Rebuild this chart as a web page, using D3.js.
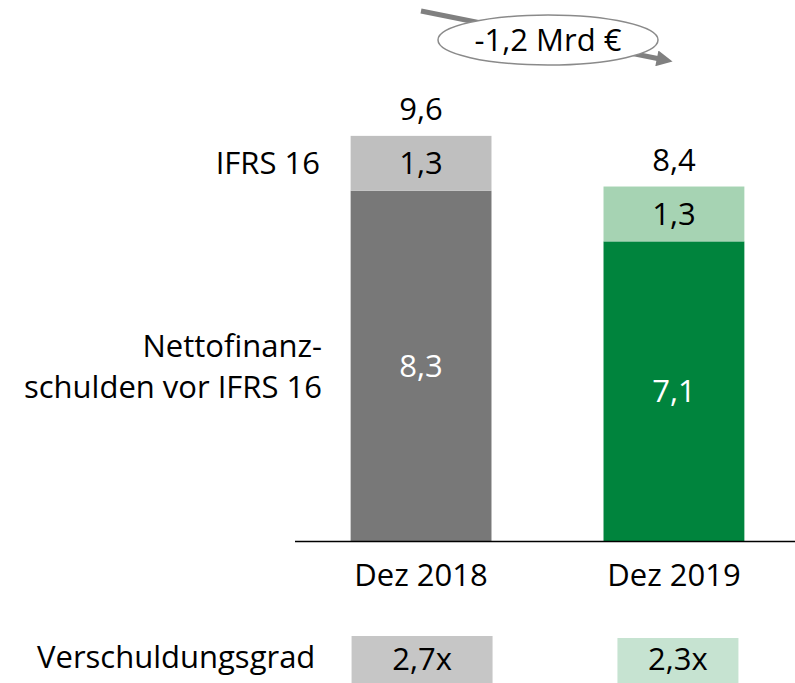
<!DOCTYPE html>
<html>
<head>
<meta charset="utf-8">
<script src="https://cdn.jsdelivr.net/npm/d3@7"></script>
<style>
  body { margin: 0; background: #fff; }
  #chart { width: 795px; height: 683px; }
  text { font-family: "Open Sans", sans-serif; font-size: 31px; fill: #000; }
</style>
</head>
<body>
<div id="chart"></div>
<script>
// data
const categories = ["Dez 2018", "Dez 2019"];
const netDebt = [8.3, 7.1];          // Nettofinanzschulden vor IFRS 16
const ifrs16 = [1.3, 1.3];           // IFRS 16
const totals = [9.6, 8.4];
const leverage = ["2,7x", "2,3x"];
const deltaLabel = "-1,2 Mrd €";

const baseColors = ["#787878", "#00843d"];
const topColors = ["#bfbfbf", "#a6d3b3"];
const boxColors = ["#c6c6c6", "#c6e3d1"];

const width = 795, height = 683;
const fmt = v => d3.format(".1f")(v).replace(".", ",");

const svg = d3.select("#chart").append("svg")
    .attr("width", width)
    .attr("height", height);

const x = d3.scaleBand()
    .domain(categories)
    .range([295, 800])
    .paddingInner(0.443)
    .paddingOuter(0.22);

const y = d3.scaleLinear()
    .domain([0, 10])
    .range([541, 119]);

const data = categories.map((c, i) => ({
    cat: c, base: netDebt[i], top: ifrs16[i], total: totals[i], i: i
}));

// bottom segment
svg.selectAll("rect.base")
    .data(data).enter().append("rect")
    .attr("class", "base")
    .attr("x", d => x(d.cat))
    .attr("width", x.bandwidth())
    .attr("y", d => y(d.base))
    .attr("height", d => y(0) - y(d.base))
    .attr("fill", d => baseColors[d.i]);

// IFRS 16 segment
svg.selectAll("rect.top")
    .data(data).enter().append("rect")
    .attr("class", "top")
    .attr("x", d => x(d.cat))
    .attr("width", x.bandwidth())
    .attr("y", d => y(d.total))
    .attr("height", d => y(d.base) - y(d.total))
    .attr("fill", d => topColors[d.i]);

// labels inside
svg.selectAll("text.baseLbl")
    .data(data).enter().append("text")
    .attr("x", d => x(d.cat) + x.bandwidth() / 2)
    .attr("y", d => (y(0) + y(d.base)) / 2)
    .attr("dy", "0.35em")
    .attr("text-anchor", "middle")
    .style("fill", "#fff")
    .text(d => fmt(d.base));

svg.selectAll("text.topLbl")
    .data(data).enter().append("text")
    .attr("x", d => x(d.cat) + x.bandwidth() / 2)
    .attr("y", d => (y(d.base) + y(d.total)) / 2)
    .attr("dy", "0.35em")
    .attr("text-anchor", "middle")
    .text(d => fmt(d.top));

svg.selectAll("text.totLbl")
    .data(data).enter().append("text")
    .attr("x", d => x(d.cat) + x.bandwidth() / 2)
    .attr("y", d => y(d.total) - 16)
    .attr("text-anchor", "middle")
    .text(d => fmt(d.total));

// axis line + category labels
const xAxis = svg.append("g")
    .attr("transform", `translate(0,${y(0)})`)
    .call(d3.axisBottom(x).tickSize(0).tickPadding(23));
xAxis.select(".domain").attr("d", "M295,0.5H795").attr("stroke", "#000").attr("stroke-width", 1.5);
xAxis.selectAll(".tick text")
    .style("font-family", "\"Open Sans\", sans-serif")
    .style("font-size", "31px")
    .attr("fill", "#000");

// series labels on the left
svg.append("text")
    .attr("x", 320).attr("y", y((totals[0] + netDebt[0]) / 2))
    .attr("dy", "0.35em")
    .attr("text-anchor", "end")
    .text("IFRS 16");

svg.append("text")
    .attr("x", 322).attr("y", 357)
    .attr("text-anchor", "end")
    .text("Nettofinanz-");
svg.append("text")
    .attr("x", 322).attr("y", 398)
    .attr("text-anchor", "end")
    .text("schulden vor IFRS 16");

// Verschuldungsgrad row
const boxW = [141, 121];
svg.append("text")
    .attr("x", 37).attr("y", 668)
    .text("Verschuldungsgrad");

svg.selectAll("rect.box")
    .data(data).enter().append("rect")
    .attr("x", d => x(d.cat) + x.bandwidth() / 2 - boxW[d.i] / 2 + (d.i ? 4 : 1))
    .attr("y", d => d.i ? 638 : 636)
    .attr("width", d => boxW[d.i])
    .attr("height", 50)
    .attr("fill", d => boxColors[d.i]);

svg.selectAll("text.lev")
    .data(data).enter().append("text")
    .attr("x", d => x(d.cat) + x.bandwidth() / 2 + (d.i ? 4 : 1))
    .attr("y", 670)
    .attr("text-anchor", "middle")
    .text(d => leverage[d.i]);

// change arrow + ellipse
svg.append("defs").append("marker")
    .attr("id", "head")
    .attr("viewBox", "0 0 10 10")
    .attr("refX", 2).attr("refY", 5)
    .attr("markerWidth", 4).attr("markerHeight", 3.2)
    .attr("orient", "auto")
    .append("path")
    .attr("d", "M0,0L10,5L0,10Z")
    .attr("fill", "#808080");

svg.append("line")
    .attr("x1", 421).attr("y1", 11)
    .attr("x2", 660).attr("y2", 59)
    .attr("stroke", "#808080")
    .attr("stroke-width", 5)
    .attr("marker-end", "url(#head)");

svg.append("ellipse")
    .attr("cx", 548).attr("cy", 40)
    .attr("rx", 110).attr("ry", 25)
    .attr("fill", "#fff")
    .attr("stroke", "#8a8a8a")
    .attr("stroke-width", 1.5);

svg.append("text")
    .attr("x", 548).attr("y", 40)
    .attr("dy", "0.35em")
    .attr("text-anchor", "middle")
    .text(deltaLabel);
</script>
</body>
</html>
